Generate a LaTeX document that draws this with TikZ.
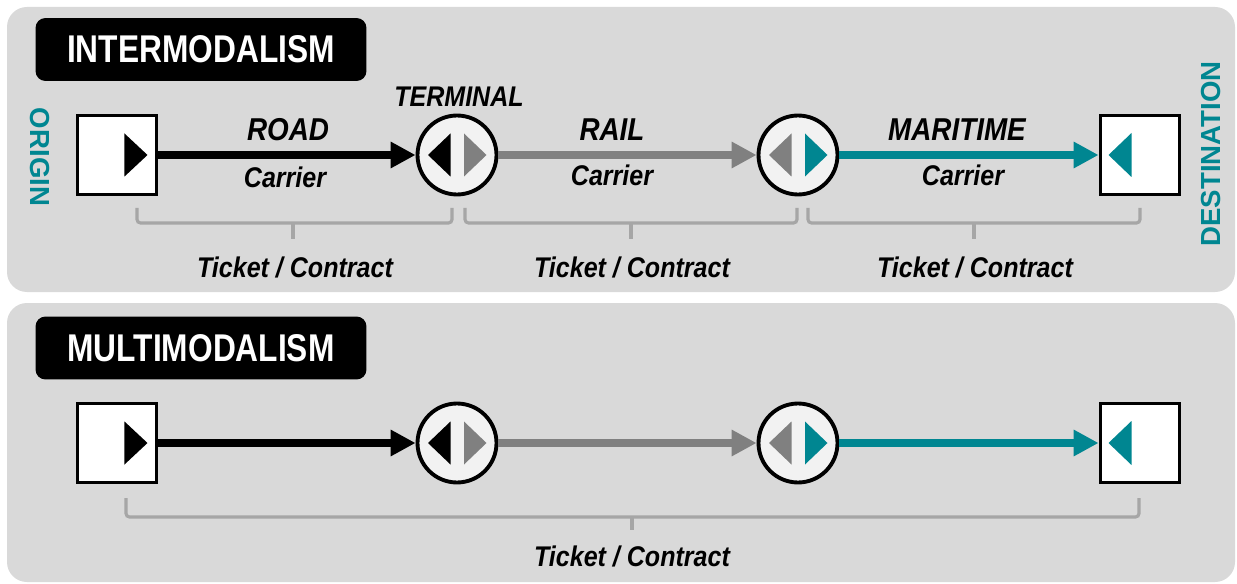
\documentclass[tikz,border=0pt]{standalone}
\usepackage{fontspec}
\setmainfont{Liberation Sans}
\newfontfamily\narrowfont[FakeStretch=0.88]{Liberation Sans}
\newfontfamily\titlefont[FakeStretch=0.82]{Liberation Sans}
\usepackage{xcolor}
\usepackage{tikz}
\usetikzlibrary{arrows.meta}
\usetikzlibrary{positioning}

\definecolor{panelgray}{HTML}{D9D9D9}
\definecolor{hubfill}{HTML}{F2F2F2}
\definecolor{railgray}{HTML}{808080}
\definecolor{seateal}{RGB}{0,134,145}
\definecolor{bracketgray}{HTML}{A6A6A6}

\begin{document}
\begin{tikzpicture}[
  x=0.02cm, y=-0.02cm,
  panel/.style={fill=panelgray, rounded corners=0.4cm},
  titlebox/.style={fill=black, text=white, rounded corners=0.2cm, minimum width=6.62cm, minimum height=1.26cm, inner sep=0pt, font=\titlefont\bfseries\fontsize{22}{26}\selectfont},
  endbox/.style={draw, line width=2.2pt, fill=white, minimum size=1.58cm, inner sep=0pt},
  hub/.style={circle, draw, line width=2.2pt, fill=hubfill, minimum size=1.58cm, inner sep=0pt},
  mode/.style={line width=4pt, -{Triangle[length=0.5cm, width=0.5cm]}},
  modelabel/.style={font=\narrowfont\bfseries\itshape\fontsize{18}{21}\selectfont},
  carrier/.style={font=\narrowfont\bfseries\itshape\fontsize{16.2}{19}\selectfont},
  endlabel/.style={text=seateal, font=\bfseries\fontsize{15.7}{18}\selectfont},
  bracket/.style={draw=bracketgray, line width=1.8pt, rounded corners=2pt},
]
\useasboundingbox (0,0) rectangle (1237,584);

% panels
\fill[panel] (7,7) rectangle (1235,292);
\fill[panel] (7,303) rectangle (1235,582);

\node[titlebox] (intertitle) at (201,49.5) {INTERMODALISM};
\node[titlebox] (multititle) at (201,348) {MULTIMODALISM};

% the same chain in both panels
\foreach \r/\yy in {a/155, b/443}{
  \node[endbox] (orig\r) at (117,\yy) {};
  \node[hub] (hubA\r) at (457,\yy) {};
  \node[hub] (hubB\r) at (798,\yy) {};
  \node[endbox] (dest\r) at (1140,\yy) {};

  \draw[mode] (orig\r) -- (hubA\r);
  \draw[mode, railgray] (hubA\r) -- (hubB\r);
  \draw[mode, seateal] (hubB\r) -- (dest\r);

  % direction marks
  \fill ([xshift=0.15cm]orig\r.center) -- ++(0,-21.5) -- ++(23,21.5) -- ++(-23,21.5) -- cycle;
  \fill ([xshift=-0.13cm]hubA\r.center) -- ++(0,-21.5) -- ++(-22.5,21.5) -- ++(22.5,21.5) -- cycle;
  \fill[railgray] ([xshift=0.14cm]hubA\r.center) -- ++(0,-21.5) -- ++(22.5,21.5) -- ++(-22.5,21.5) -- cycle;
  \fill[railgray] ([xshift=-0.13cm]hubB\r.center) -- ++(0,-21.5) -- ++(-22.5,21.5) -- ++(22.5,21.5) -- cycle;
  \fill[seateal] ([xshift=0.14cm]hubB\r.center) -- ++(0,-21.5) -- ++(22.5,21.5) -- ++(-22.5,21.5) -- cycle;
  \fill[seateal] ([xshift=-0.17cm]dest\r.center) -- ++(0,-22) -- ++(-23,22) -- ++(23,22) -- cycle;
}

% labels of the upper chain
\node[endlabel, rotate=-90] (origin) at (40,157) {ORIGIN};
\node[endlabel, rotate=90] (destination) at (1211,154) {DESTINATION};
\node[carrier] (terminal) at (459,97) {TERMINAL};
\node[modelabel] (road) at (288,130) {ROAD};
\node[carrier] (roadcarrier) at (285,177) {Carrier};
\node[modelabel] (rail) at (612,130) {RAIL};
\node[carrier] (railcarrier) at (612,175) {Carrier};
\node[modelabel] (maritime) at (957,130) {MARITIME};
\node[carrier] (seacarrier) at (963,175) {Carrier};

% brackets
\draw[bracket] (137,208) -- (137,223) -- (452,223) -- (452,208);
\draw[bracket] (293,223) -- (293,239);
\draw[bracket] (465,208) -- (465,223) -- (797,223) -- (797,208);
\draw[bracket] (631,223) -- (631,239);
\draw[bracket] (808,208) -- (808,223) -- (1140,223) -- (1140,208);
\draw[bracket] (974,223) -- (974,239);
\draw[bracket] (126,498) -- (126,517) -- (1139,517) -- (1139,498);
\draw[bracket] (632,517) -- (632,530);

\node[carrier] (ticketA) at (295,267) {Ticket / Contract};
\node[carrier] (ticketB) at (632,267) {Ticket / Contract};
\node[carrier] (ticketC) at (975,267) {Ticket / Contract};
\node[carrier] (ticketall) at (632,556) {Ticket / Contract};
\end{tikzpicture}
\end{document}
